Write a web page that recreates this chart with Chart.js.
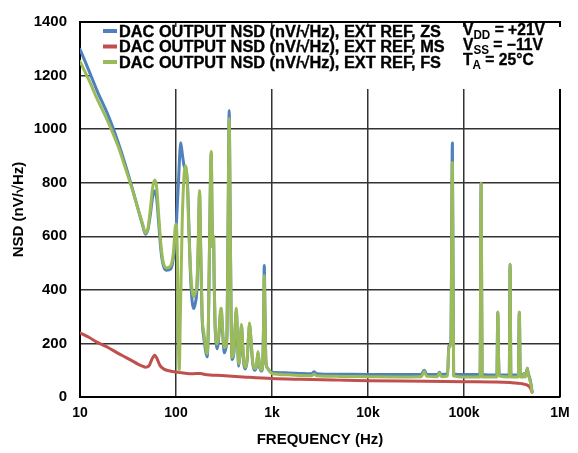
<!DOCTYPE html>
<html><head><meta charset="utf-8">
<script src="https://cdn.jsdelivr.net/npm/chart.js@4/dist/chart.umd.min.js"></script>
<style>html,body{margin:0;padding:0;background:#fff;overflow:hidden}canvas{display:block}</style>
</head><body>
<canvas id="c" width="578" height="453"></canvas>
<script>
// ---- data ----
const freqZS = [10,12.5,15,20,25,30,35,40,45,48,51,54,57,60,63,66,70,74,80,88,94,100,106,112,117,122,127,132,136,141,147,153,159,165,170,176,180,187,195,203,211,218,228,233,237,241,246,250,255,262,268,280,290,296,303,311,319,330,340,350,358,366,375,384,400,415,425,435,449,465,480,495,510,527,550,570,585,600,630,659,690,715,740,774,800,820,831,845,865,888,950,1000,1500,2000,2600,2750,2900,5000,10000,20000,36000,38500,41000,53000,55500,58000,67500,69500,73000,75700,78000,100000,147000,150700,154500,220000,225000,229000,233000,296000,302000,308000,368000,377000,386000,410000,422000,435000,450000,457000,465000,480000,495000,512000];
const nsdZS  = [1298,1215,1145,1045,950,862,780,705,640,608,625,680,745,770,740,650,540,490,473,478,520,620,800,949,900,860,850,790,650,470,360,330,350,400,540,760,580,300,220,175,150,280,790,910,690,560,600,420,270,200,180,230,310,325,270,200,165,180,240,720,1070,720,300,140,160,270,320,240,115,160,265,190,120,105,135,225,270,225,125,100,115,165,115,97,120,320,491,320,130,110,96,92,90,88,87,94,87,85,84,84,85,100,85,84,92,84,86,190,205,948,86,84,84,798,84,82,316,150,82,82,496,82,82,316,82,82,88,80,98,107,90,75,55,20];

const freqMS = [10,12.5,15,20,25,30,35,40,45,48,52,56,60,64,68,74,85,100,130,150,180,200,300,500,1000,2000,5000,10000,40000,100000,200000,300000,400000,450000,480000,500000,512000];
const nsdMS  = [240,222,205,183,163,148,135,123,115,111,115,140,156,140,118,105,98,93,88,87,88,84,80,75,69,66,63,61,59,57,56,54,50,45,38,28,18];

const freqFS = [10,12.5,15,20,25,30,35,40,45,48,51,54,57,60,63,66,70,74,80,88,94,98,100,103,106,108,111,116,121,126,131,136,141,147,153,159,165,170,176,180,187,195,203,211,218,228,233,237,241,246,250,255,262,268,280,290,296,303,311,319,330,340,350,358,366,375,384,400,415,425,435,449,465,480,495,510,527,550,570,585,600,630,659,690,715,740,774,800,820,831,845,865,888,950,1000,1500,2000,2600,2750,2900,5000,10000,20000,36000,38500,41000,53000,55500,58000,67500,69500,73000,75700,78000,100000,147000,150700,154500,220000,225000,229000,233000,296000,302000,308000,368000,377000,386000,410000,422000,435000,450000,457000,465000,480000,495000,512000];
const nsdFS  = [1253,1180,1115,1020,935,850,775,705,645,612,630,700,780,810,780,680,560,500,482,490,540,630,645,560,200,100,300,650,820,862,800,620,491,400,375,390,420,560,770,600,308,240,190,161,300,800,917,700,560,600,420,280,210,197,240,320,331,280,210,184,190,240,700,1040,700,300,148,170,280,331,250,124,170,271,200,130,111,140,230,276,230,130,106,120,170,120,100,120,300,454,300,130,111,95,88,83,80,79,86,79,77,76,75,76,95,77,76,90,76,78,184,200,875,78,75,75,798,75,75,316,150,78,75,496,75,75,316,75,74,87,74,95,107,85,70,50,18];

const seriesNames = ['DAC OUTPUT NSD (nV/√Hz), EXT REF, ZS','DAC OUTPUT NSD (nV/√Hz), EXT REF, MS','DAC OUTPUT NSD (nV/√Hz), EXT REF, FS'];
const seriesColors = ['#4f81bd','#c0504d','#9bbb59'];
const xTickValues = [10,100,1000,10000,100000,1000000];
const xTickLabels = ['10','100','1k','10k','100k','1M'];
const yTickStep = 200;
const condLines = [['V','DD',' = +21V'],['V','SS',' = \u221211V'],['T','A',' = 25°C']];

const pts = (f, v) => f.map((x, i) => ({x, y: v[i]}));
const FONT = '"Liberation Sans", Arial, sans-serif';
Chart.defaults.font.family = FONT;

const framePlugin = {
  id: 'frame',
  beforeDatasetsDraw(chart) {
    const {ctx, chartArea: a} = chart;
    ctx.save();
    ctx.strokeStyle = '#000'; ctx.lineWidth = 2;
    ctx.beginPath();
    ctx.moveTo(a.left, a.top); ctx.lineTo(a.right, a.top); ctx.lineTo(a.right, a.bottom);
    ctx.moveTo(a.left, a.top); ctx.lineTo(a.left, a.bottom); ctx.lineTo(a.right, a.bottom);
    ctx.stroke();
    // white box behind legend / conditions
    const bandBottom = chart.scales.y.getPixelForValue(1150);
    ctx.fillStyle = '#fff';
    ctx.fillRect(a.left + 11, a.top + 5, a.right - a.left - 11 + 3, bandBottom - a.top - 5);
    ctx.restore();
  },
  afterDatasetsDraw(chart) {
    const {ctx} = chart;
    ctx.save();
    ctx.fillStyle = '#000';
    ctx.strokeStyle = '#000';
    ctx.textBaseline = 'alphabetic';
    ctx.font = 'bold 16px ' + FONT;
    const sx = 322 / ctx.measureText(seriesNames[0]).width;
    const bases = [36.5, 52, 67.5];
    seriesNames.forEach((name, i) => {
      ctx.strokeStyle = seriesColors[i]; ctx.lineWidth = 4; ctx.lineCap = 'butt';
      ctx.beginPath(); ctx.moveTo(103, bases[i] - 5.5); ctx.lineTo(117, bases[i] - 5.5); ctx.stroke();
      ctx.save(); ctx.translate(119, bases[i]); ctx.scale(sx, 1);
      ctx.fillText(name, 0, 0);
      ctx.strokeStyle = '#000'; ctx.lineWidth = 0.35; ctx.strokeText(name, 0, 0);
      ctx.restore();
    });
    // conditions block
    const cb = [34.5, 49.5, 65];
    const big = 'bold 16px ' + FONT, small = 'bold 12px ' + FONT;
    ctx.font = big; const w0 = ctx.measureText(condLines[0][0]).width + ctx.measureText(condLines[0][2]).width;
    ctx.font = small; const w1 = ctx.measureText(condLines[0][1]).width;
    const csx = 82 / (w0 + w1);
    ctx.strokeStyle = '#000'; ctx.lineWidth = 0.35;
    condLines.forEach((p, i) => {
      ctx.save(); ctx.translate(463, cb[i]); ctx.scale(csx, 1);
      let x = 0;
      ctx.font = big; ctx.fillText(p[0], x, 0); ctx.strokeText(p[0], x, 0); x += ctx.measureText(p[0]).width;
      ctx.font = small; ctx.fillText(p[1], x, 4); x += ctx.measureText(p[1]).width;
      ctx.font = big; ctx.fillText(p[2], x, 0); ctx.strokeText(p[2], x, 0);
      ctx.restore();
    });
    ctx.restore();
  }
};

const ds = (i, f, v, order) => ({
  label: seriesNames[i], data: pts(f, v), borderColor: seriesColors[i], backgroundColor: seriesColors[i],
  borderWidth: 3, pointRadius: 0, pointHoverRadius: 0, fill: false, order,
  cubicInterpolationMode: 'monotone', borderJoinStyle: 'round', borderCapStyle: 'round'
});

new Chart(document.getElementById('c'), {
  type: 'line',
  data: { datasets: [ ds(0, freqZS, nsdZS, 2), ds(1, freqMS, nsdMS, 1), ds(2, freqFS, nsdFS, 0) ] },
  options: {
    responsive: false, animation: false, devicePixelRatio: 1,
    layout: { padding: { left: 0, right: 18, top: 15, bottom: 0 } },
    plugins: { legend: { display: false }, tooltip: { enabled: false } },
    scales: {
      x: {
        type: 'logarithmic', min: 10, max: 1000000,
        afterBuildTicks: s => { s.ticks = xTickValues.map(v => ({ value: v })); },
        afterFit: s => { s.height = 56; },
        ticks: { autoSkip: false, maxRotation: 0, padding: 8, color: '#000',
          font: { family: FONT, weight: 'bold', size: 14 },
          callback: (v, i) => xTickLabels[i] },
        grid: { color: '#333', lineWidth: 1.5, drawTicks: false },
        border: { color: '#000', width: 2 },
        title: { display: true, text: 'FREQUENCY (Hz)', color: '#000',
          font: { family: FONT, weight: 'bold', size: 15 }, padding: { top: 0, bottom: 4 } }
      },
      y: {
        min: 0, max: 1400,
        afterFit: s => { s.width = 80; },
        ticks: { stepSize: yTickStep, padding: 13, color: '#000',
          font: { family: FONT, weight: 'bold', size: 15 },
          callback: v => String(v) },
        grid: { color: '#333', lineWidth: 1.5, drawTicks: false },
        border: { color: '#000', width: 2 },
        title: { display: true, text: 'NSD (nV/√Hz)', color: '#000',
          font: { family: FONT, weight: 'bold', size: 15 }, padding: { top: 10, bottom: 0 } }
      }
    }
  },
  plugins: [framePlugin]
});
</script>
</body></html>
